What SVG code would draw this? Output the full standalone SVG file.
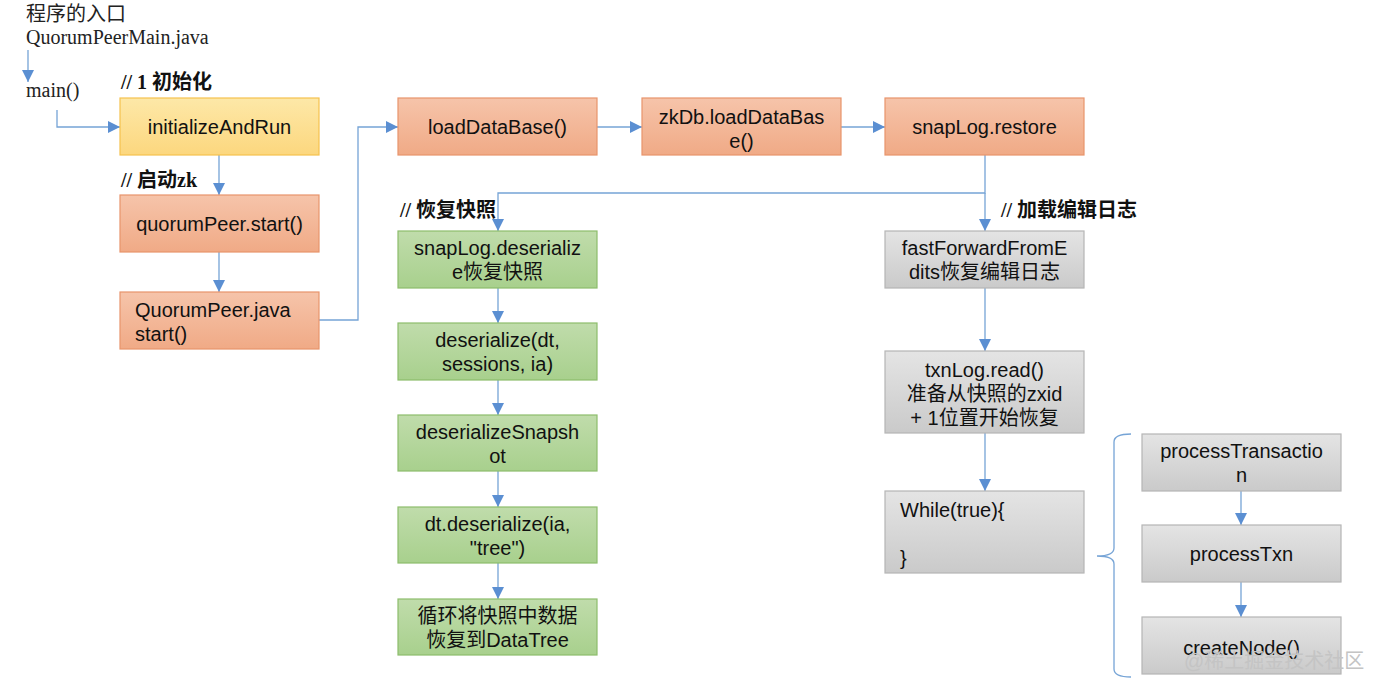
<svg xmlns="http://www.w3.org/2000/svg" width="1380" height="692" viewBox="0 0 1380 692">
<defs>
<linearGradient id="gY" x1="0" y1="0" x2="0" y2="1"><stop offset="0" stop-color="#fde8a8"/><stop offset="1" stop-color="#fcd77e"/></linearGradient>
<linearGradient id="gO" x1="0" y1="0" x2="0" y2="1"><stop offset="0" stop-color="#f6c4aa"/><stop offset="1" stop-color="#f0aa86"/></linearGradient>
<linearGradient id="gG" x1="0" y1="0" x2="0" y2="1"><stop offset="0" stop-color="#c0dcab"/><stop offset="1" stop-color="#a8d08d"/></linearGradient>
<linearGradient id="gR" x1="0" y1="0" x2="0" y2="1"><stop offset="0" stop-color="#e4e4e4"/><stop offset="1" stop-color="#cacaca"/></linearGradient>
<marker id="ah" viewBox="0 0 10 10" refX="10" refY="5" markerWidth="12" markerHeight="12" markerUnits="userSpaceOnUse" orient="auto"><path d="M0,0 L10,5 L0,10 z" fill="#5b8fd2"/></marker>
</defs>
<style>
.c{fill:none;stroke:#76a4d6;stroke-width:1.3}
.y{fill:url(#gY);stroke:#f5c24e;stroke-width:1.2}
.o{fill:url(#gO);stroke:#e8946c;stroke-width:1.2}
.g{fill:url(#gG);stroke:#8dbd6c;stroke-width:1.2}
.r{fill:url(#gR);stroke:#b5b5b5;stroke-width:1.2}
.t{font-family:"Liberation Sans","Noto Sans CJK SC",sans-serif;font-size:20px;fill:#111;text-anchor:middle}
.tl{font-family:"Liberation Sans","Noto Sans CJK SC",sans-serif;font-size:20px;fill:#111}
.s{font-family:"Liberation Serif","Noto Sans CJK SC",serif;font-size:20px;fill:#222}
.b{font-family:"Liberation Serif","Noto Sans CJK SC",serif;font-size:20px;font-weight:bold;fill:#111}
.w{font-family:"Liberation Sans","Noto Sans CJK SC",sans-serif;font-size:20px;fill:#c4c4c4}
</style>
<rect width="1380" height="692" fill="#ffffff"/>
<g id="labels">
<text class="s" x="26" y="21">程序的入口</text>
<text class="s" x="26" y="44">QuorumPeerMain.java</text>
<text class="s" x="26" y="97">main()</text>
<text class="b" x="121" y="89">// 1 初始化</text>
<text class="b" x="121" y="187">// 启动zk</text>
<text class="b" x="400" y="217">// 恢复快照</text>
<text class="b" x="1001" y="217">// 加载编辑日志</text>
</g>
<g id="connectors">
<path class="c" d="M28,50 V82" marker-end="url(#ah)"/>
<path class="c" d="M57,110 V127 H120" marker-end="url(#ah)"/>
<path class="c" d="M219,155 V195" marker-end="url(#ah)"/>
<path class="c" d="M219,252 V292" marker-end="url(#ah)"/>
<path class="c" d="M319,320 H358 V127 H398" marker-end="url(#ah)"/>
<path class="c" d="M597,127 H642" marker-end="url(#ah)"/>
<path class="c" d="M841,127 H885" marker-end="url(#ah)"/>
<path class="c" d="M985,155 V193 H498 V231" marker-end="url(#ah)"/>
<path class="c" d="M985,193 V231" marker-end="url(#ah)"/>
<path class="c" d="M498,288 V323" marker-end="url(#ah)"/>
<path class="c" d="M498,380 V415" marker-end="url(#ah)"/>
<path class="c" d="M498,471 V507" marker-end="url(#ah)"/>
<path class="c" d="M498,563 V599" marker-end="url(#ah)"/>
<path class="c" d="M985,288 V351" marker-end="url(#ah)"/>
<path class="c" d="M985,433 V491" marker-end="url(#ah)"/>
<path class="c" d="M1241,491 V525" marker-end="url(#ah)"/>
<path class="c" d="M1241,582 V617" marker-end="url(#ah)"/>
<path class="c" d="M1131,434 Q1114,434 1114,442 V548 Q1114,556 1097,556 Q1114,556 1114,564 V669 Q1114,677 1131,677"/>
</g>
<g id="initializeAndRun"><rect class="y" x="120" y="98" width="199" height="57"/><text class="t" x="219.5" y="134">initializeAndRun</text></g>
<g id="quorumPeerStart"><rect class="o" x="120" y="195" width="199" height="57"/><text class="t" x="219.5" y="231">quorumPeer.start()</text></g>
<g id="quorumPeerJava"><rect class="o" x="120" y="292" width="199" height="57"/><text class="tl" x="135" y="317">QuorumPeer.java</text><text class="tl" x="135" y="341">start()</text></g>
<g id="loadDataBase"><rect class="o" x="398" y="98" width="199" height="57"/><text class="t" x="497.5" y="134">loadDataBase()</text></g>
<g id="zkDbLoadDataBase"><rect class="o" x="642" y="98" width="199" height="57"/><text class="t" x="741.5" y="124">zkDb.loadDataBas</text><text class="t" x="741.5" y="148">e()</text></g>
<g id="snapLogRestore"><rect class="o" x="885" y="98" width="199" height="57"/><text class="t" x="984.5" y="134">snapLog.restore</text></g>
<g id="snapLogDeserialize"><rect class="g" x="398" y="231" width="199" height="57"/><text class="t" x="497.5" y="255">snapLog.deserializ</text><text class="t" x="497.5" y="279">e恢复快照</text></g>
<g id="deserializeDt"><rect class="g" x="398" y="323" width="199" height="57"/><text class="t" x="497.5" y="347">deserialize(dt,</text><text class="t" x="497.5" y="371">sessions, ia)</text></g>
<g id="deserializeSnapshot"><rect class="g" x="398" y="415" width="199" height="56"/><text class="t" x="497.5" y="439">deserializeSnapsh</text><text class="t" x="497.5" y="463">ot</text></g>
<g id="dtDeserialize"><rect class="g" x="398" y="507" width="199" height="56"/><text class="t" x="497.5" y="531">dt.deserialize(ia,</text><text class="t" x="497.5" y="555">"tree")</text></g>
<g id="loopRestore"><rect class="g" x="398" y="599" width="199" height="56"/><text class="t" x="497.5" y="623">循环将快照中数据</text><text class="t" x="497.5" y="647">恢复到DataTree</text></g>
<g id="fastForward"><rect class="r" x="885" y="231" width="199" height="57"/><text class="t" x="984.5" y="255">fastForwardFromE</text><text class="t" x="984.5" y="279">dits恢复编辑日志</text></g>
<g id="txnLogRead"><rect class="r" x="885" y="351" width="199" height="82"/><text class="t" x="984.5" y="377">txnLog.read()</text><text class="t" x="984.5" y="401">准备从快照的zxid</text><text class="t" x="984.5" y="425">+ 1位置开始恢复</text></g>
<g id="whileTrue"><rect class="r" x="885" y="491" width="199" height="82"/><text class="tl" x="900" y="517">While(true){</text><text class="tl" x="900" y="565">}</text></g>
<g id="processTransaction"><rect class="r" x="1142" y="434" width="199" height="57"/><text class="t" x="1241.5" y="458">processTransactio</text><text class="t" x="1241.5" y="482">n</text></g>
<g id="processTxn"><rect class="r" x="1142" y="525" width="199" height="57"/><text class="t" x="1241.5" y="561">processTxn</text></g>
<g id="createNode"><rect class="r" x="1142" y="617" width="199" height="57"/><text class="t" x="1241.5" y="655">createNode()</text></g>
<text class="w" x="1184" y="668">@稀土掘金技术社区</text>
</svg>
